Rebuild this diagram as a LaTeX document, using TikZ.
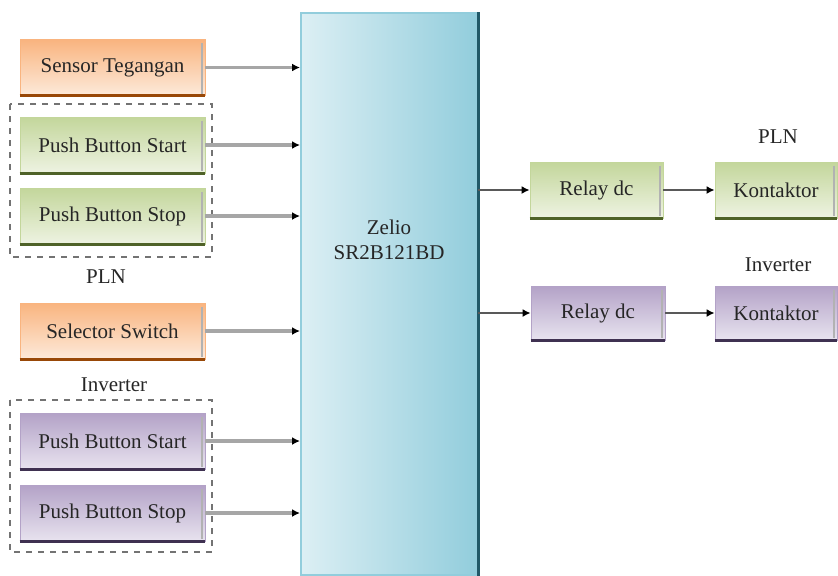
\documentclass[tikz,border=0pt]{standalone}
\usepackage{fontspec}
\setmainfont{Liberation Serif}
\usetikzlibrary{arrows.meta, calc}

\definecolor{orgdark}{HTML}{F9B47F}
\definecolor{orglight}{HTML}{FDEADA}
\definecolor{orgline}{HTML}{984807}
\definecolor{grndark}{HTML}{C3D69B}
\definecolor{grnlight}{HTML}{EEF3E2}
\definecolor{grnline}{HTML}{4F6228}
\definecolor{purdark}{HTML}{B3A2C7}
\definecolor{purlight}{HTML}{E8E3EF}
\definecolor{purline}{HTML}{3F3151}
\definecolor{zellight}{HTML}{DCEFF4}
\definecolor{zeldark}{HTML}{92CDDC}
\definecolor{zeledge}{HTML}{215968}

\begin{document}
\begin{tikzpicture}[
        x=0.5pt, y=-0.5pt,
        every node/.style={
            font=\rmfamily\fontsize{10.5}{12.5}\selectfont,
            text=black!85
        },
        box/.style={
            rectangle,
            minimum height=28pt,
            inner sep=0pt,
            text centered
        },
        orgbox/.style={box, draw=orgdark, top color=orgdark, bottom color=orglight},
        grnbox/.style={box, draw=grndark, top color=grndark, bottom color=grnlight},
        purbox/.style={box, draw=purdark, top color=purdark, bottom color=purlight},
        arrow/.style={draw=black!35, line width=1.6pt, -{Latex[black,length=4pt,width=4pt]}},
        outarrow/.style={draw=black!65, line width=1pt, -{Latex[black,length=4pt,width=4pt]}},
        group/.style={draw=black!55, dashed, line width=0.8pt}
    ]
    \useasboundingbox (0,0) rectangle (838,575);

    % Zelio
    \node (zelio) [rectangle, draw=zeldark, line width=1pt, left color=zellight,
        right color=zeldark, minimum width=88pt, minimum height=281pt] at (389,294) {};
    \draw [zeledge, line width=1.5pt] (zelio.north east) -- (zelio.south east);
    \node (zeliotxt) [align=center] at (389,240) {Zelio\\SR2B121BD};

    % Left inputs
    \node (sensor) [orgbox, minimum width=92.5pt] at (112.5,67.5) {Sensor Tegangan};
    \node (startpln) [grnbox, minimum width=92.5pt] at (112.5,145) {Push Button Start};
    \node (stoppln) [grnbox, minimum width=92.5pt] at (112.5,216) {Push Button Stop};
    \node (lblpln) at (106,277) {PLN};
    \node (selector) [orgbox, minimum width=92.5pt] at (112.5,331) {Selector Switch};
    \node (lblinv) at (114,385) {Inverter};
    \node (startinv) [purbox, minimum width=92.5pt] at (112.5,441) {Push Button Start};
    \node (stopinv) [purbox, minimum width=92.5pt] at (112.5,513) {Push Button Stop};

    \draw [group] (10,104) rectangle (212,257);
    \draw [group] (10,400) rectangle (212,552);

    % Right outputs
    \node (relaypln) [grnbox, minimum width=66.5pt] at (596.5,190) {Relay dc};
    \node (konpln) [grnbox, minimum width=61pt] at (776,190) {Kontaktor};
    \node (lblkpln) at (778,137) {PLN};
    \node (relayinv) [purbox, minimum width=67pt, minimum height=27pt] at (598,313) {Relay dc};
    \node (koninv) [purbox, minimum width=61pt, minimum height=27pt] at (776,313) {Kontaktor};
    \node (lblkinv) at (778,265) {Inverter};

    % Box edges
    \foreach \n/\c in {sensor/orgline, selector/orgline, startpln/grnline, stoppln/grnline,
        startinv/purline, stopinv/purline, relaypln/grnline, konpln/grnline,
        relayinv/purline, koninv/purline} {
        \draw [\c, line width=1.5pt] (\n.south west) -- (\n.south east);
        \draw [black!30, line width=1pt] ([xshift=-1.5pt,yshift=-2pt]\n.north east)
            -- ([xshift=-1.5pt,yshift=1pt]\n.south east);
    }

    % Arrows
    \foreach \n in {sensor, startpln, stoppln, selector, startinv, stopinv}
        \draw [arrow] (\n.east) -- (\n.east -| zelio.west);
    \draw [outarrow] (zelio.east |- relaypln) -- (relaypln);
    \draw [outarrow] (relaypln) -- (konpln);
    \draw [outarrow] (zelio.east |- relayinv) -- (relayinv);
    \draw [outarrow] (relayinv) -- (koninv);

\end{tikzpicture}
\end{document}
